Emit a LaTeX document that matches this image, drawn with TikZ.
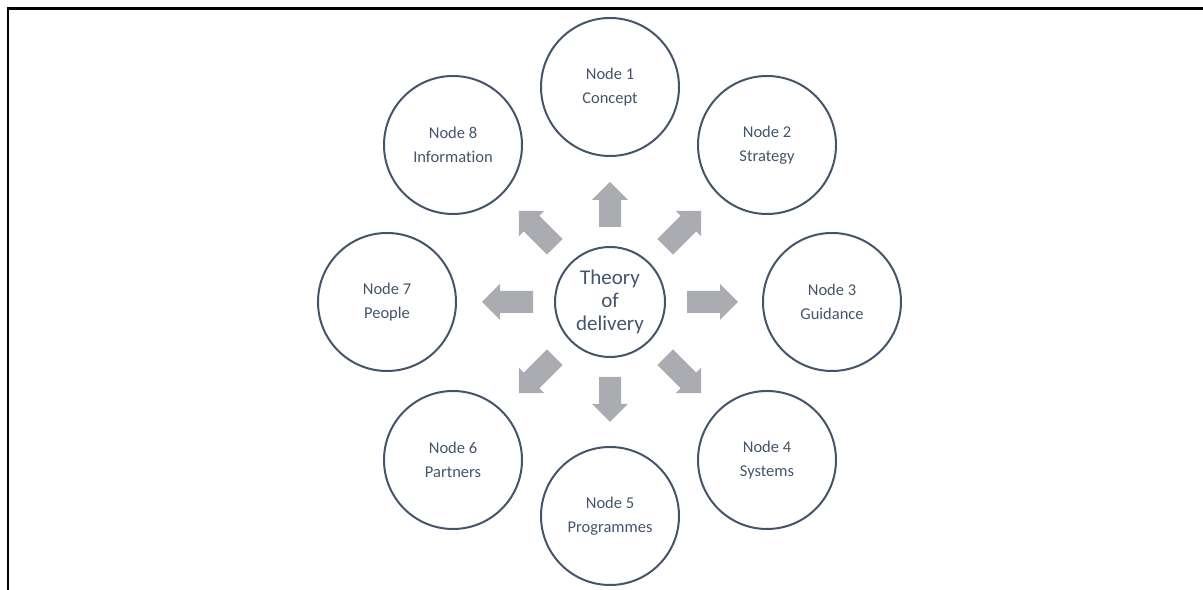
\documentclass[tikz,border=0pt]{standalone}
\usepackage{fontspec}
\setmainfont{Carlito}[Ligatures=NoCommon]
\usetikzlibrary{calc}
\definecolor{slate}{HTML}{44546A}
\definecolor{arrowgray}{HTML}{AAACB1}
\tikzset{
  outer/.style={circle, draw=slate, line width=2bp, inner sep=0pt, minimum size=138bp,
    text=slate, align=center, font=\fontsize{16.5bp}{24.5bp}\selectfont},
  core/.style={circle, draw=slate, line width=2bp, inner sep=0pt, minimum size=110bp,
    text=slate, align=center, font=\fontsize{21bp}{23bp}\selectfont},
  blockarrow/.style={fill=arrowgray, draw=none}
}
\begin{document}
\begin{tikzpicture}[x=1bp,y=1bp]
\useasboundingbox (0,0) rectangle (1203,590);
% frame (top and left edges only)
\draw[line width=2.5bp, line join=miter] (1203,581.5) -- (8,581.5) -- (8,0);
% nodes
\node[core]  (c)  at (610,288) {Theory\\of\\delivery};
\node[outer] (n1) at (610,503) {Node 1\\Concept};
\node[outer] (n2) at (767,445) {Node 2\\Strategy};
\node[outer] (n3) at (832,288) {Node 3\\Guidance};
\node[outer] (n4) at (767,130) {Node 4\\Systems};
\node[outer] (n5) at (610,74)  {Node 5\\Programmes};
\node[outer] (n6) at (453,130) {Node 6\\Partners};
\node[outer] (n7) at (387,288) {Node 7\\People};
\node[outer] (n8) at (453,445) {Node 8\\Information};
% block arrows radiating from the centre
\foreach \ang/\tl/\tp in {0/77/128, 180/77/128, 90/75/120, 270/75/120,
                          45/78/129, 135/78/129, 225/78/129, 315/78/129}{
  \pgfmathsetmacro{\hb}{\tp-18}
  \begin{scope}[shift={(c.center)}, rotate=\ang]
    \fill[blockarrow] (\tl,-11) -- (\hb,-11) -- (\hb,-18) -- (\tp,0) -- (\hb,18) -- (\hb,11) -- (\tl,11) -- cycle;
  \end{scope}
}
\end{tikzpicture}
\end{document}
